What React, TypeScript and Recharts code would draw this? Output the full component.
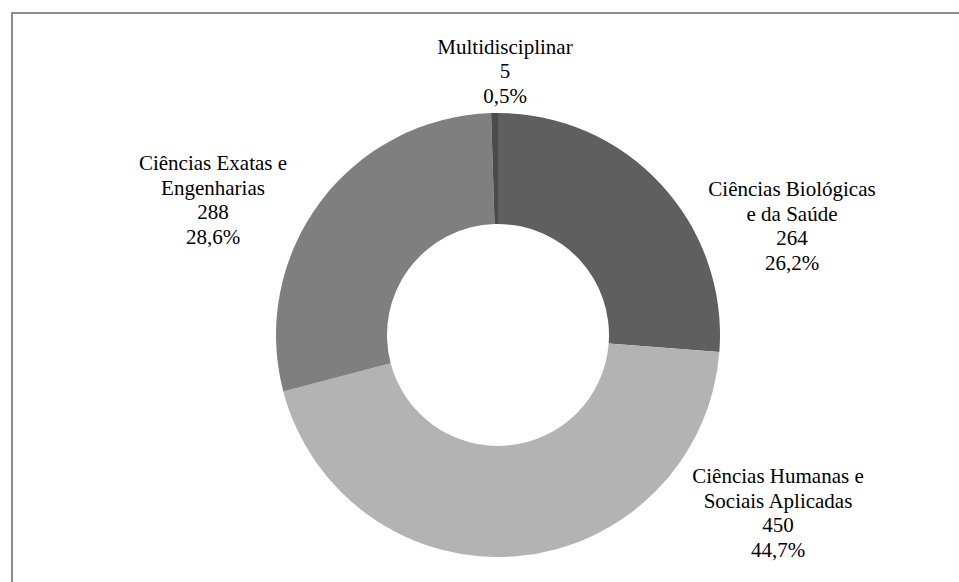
import { PieChart, Pie, Cell } from "recharts";

const categories = [
  ["Ciências Biológicas", "e da Saúde"],
  ["Ciências Humanas e", "Sociais Aplicadas"],
  ["Ciências Exatas e", "Engenharias"],
  ["Multidisciplinar"],
];
const counts = [264, 450, 288, 5];
const colors = ["#5f5f5f", "#b3b3b3", "#7f7f7f", "#4b4b4b"];

// label block centres, relative to the pie centre
const labelOffsets = [
  [294, -109],
  [280, 178],
  [-285, -135],
  [7, -264],
];

const total = counts.reduce((a, b) => a + b, 0);
const data = counts.map((v, i) => ({
  name: categories[i].join(" "),
  value: v,
  lines: [...categories[i], String(v), ((v / total) * 100).toFixed(1).replace(".", ",") + "%"],
}));

const LINE_H = 24.5;
const SERIF = "Liberation Serif";

function renderLabel(props: any) {
  const { cx, cy, index } = props;
  const lines: string[] = data[index].lines;
  const [dx, dy] = labelOffsets[index];
  const top = cy + dy - ((lines.length - 1) * LINE_H) / 2;
  return (
    <text key={"lbl" + index} textAnchor="middle" fontFamily={SERIF} fontSize={21} fill="#000">
      {lines.map((l, i) => (
        <tspan key={i} x={cx + dx} y={top + i * LINE_H} dominantBaseline="central">
          {l}
        </tspan>
      ))}
    </text>
  );
}

export default function App() {
  return (
    <div style={{ position: "absolute", left: 0, top: 0, width: 959, height: 582, background: "#fff", overflow: "hidden" }}>
      <div
        style={{
          position: "absolute",
          left: 11,
          top: 12,
          width: 1000,
          height: 700,
          borderTop: "2px solid #8c8c8c",
          borderLeft: "2px solid #8c8c8c",
        }}
      />
      <div style={{ position: "absolute", left: 0, top: 0 }}>
        <PieChart width={959} height={582}>
          <Pie
            data={data}
            dataKey="value"
            nameKey="name"
            cx={493}
            cy={330}
            outerRadius={222}
            innerRadius={111}
            startAngle={90}
            endAngle={-270}
            stroke="none"
            labelLine={false}
            label={renderLabel}
            isAnimationActive={false}
          >
            {data.map((d, i) => (
              <Cell key={d.name} fill={colors[i]} />
            ))}
          </Pie>
        </PieChart>
      </div>
    </div>
  );
}
